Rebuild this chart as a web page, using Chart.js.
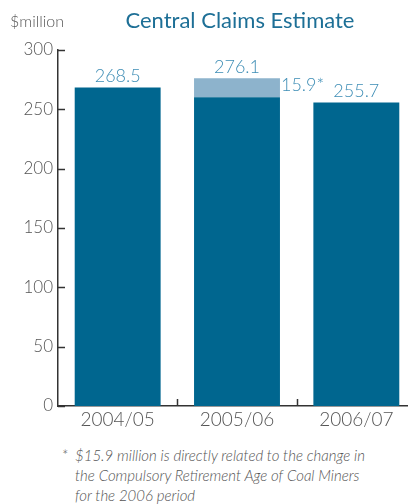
<!DOCTYPE html>
<html>
<head>
<meta charset="utf-8">
<script src="https://cdn.jsdelivr.net/npm/chart.js@4"></script>
<style>
  html, body { margin: 0; padding: 0; background: #fff; overflow: hidden; }
  body { width: 408px; height: 504px; position: relative; font-family: Lato, "Open Sans", sans-serif; font-weight: 300; }
  #wrap { position: absolute; left: 0; top: 0; width: 416px; height: 440px; }
  #title { position: absolute; left: 0; width: 480px; top: 6px; text-align: center; font-size: 22px; font-weight: 400; color: #1d6f96; white-space: nowrap; }
  #unit { position: absolute; left: 10px; top: 11px; font-size: 16px; color: #555; }
  #note { position: absolute; left: 62px; top: 445px; font-size: 15px; line-height: 20px; color: #555; font-style: italic; }
  #note span { display: inline-block; width: 13px; font-style: normal; }
  #note div.l { padding-left: 13px; }
</style>
</head>
<body>
<div id="wrap"><canvas id="myChart"></canvas></div>
<div id="title">Central Claims Estimate</div>
<div id="unit">$million</div>
<div id="note">
  <div><span>*</span>$15.9 million is directly related to the change in</div>
  <div class="l">the Compulsory Retirement Age of Coal Miners</div>
  <div class="l">for the 2006 period</div>
</div>
<script>
const years = ['2004/05', '2005/06', '2006/07'];
const baseClaims = [268.5, 260.2, 255.7];
const retirementAge = [null, 15.9, null];
const yTicks = [0, 50, 100, 150, 200, 250, 300];

const darkBlue = '#00668f';
const lightBlue = '#8db3cc';
const labelBlue = '#3d8db5';
const grey = '#555';
const fontFamily = 'Lato, "Open Sans", sans-serif';

// short tick marks drawn inside the plot, plus value labels over the bars
const insideTicks = {
    id: 'insideTicks',
    afterDatasetsDraw(chart) {
        const ctx = chart.ctx;
        const area = chart.chartArea;
        const x = chart.scales.x;
        const y = chart.scales.y;
        ctx.save();
        ctx.strokeStyle = '#333';
        ctx.lineWidth = 1.5;
        yTicks.forEach(v => {
            const py = Math.round(y.getPixelForValue(v)) + 0.5;
            ctx.beginPath();
            ctx.moveTo(area.left, py);
            ctx.lineTo(area.left + 7, py);
            ctx.stroke();
        });
        for (let i = 1; i < years.length; i++) {
            const px = Math.round((x.getPixelForValue(i - 1) + x.getPixelForValue(i)) / 2) + 0.5;
            ctx.beginPath();
            ctx.moveTo(px, area.bottom);
            ctx.lineTo(px, area.bottom - 7);
            ctx.stroke();
        }

        ctx.font = '300 18px ' + fontFamily;
        ctx.fillStyle = labelBlue;
        ctx.textAlign = 'center';
        ctx.textBaseline = 'bottom';
        const baseMeta = chart.getDatasetMeta(0);
        const addMeta = chart.getDatasetMeta(1);
        years.forEach((yr, i) => {
            const extra = retirementAge[i] || 0;
            const total = baseClaims[i] + extra;
            const bar = extra ? addMeta.data[i] : baseMeta.data[i];
            ctx.fillText(total.toFixed(1), bar.x, bar.y - 2);
            if (extra) {
                ctx.textAlign = 'left';
                ctx.textBaseline = 'top';
                ctx.fillText(extra.toFixed(1) + '*', bar.x + bar.width / 2 + 1, bar.y - 2);
                ctx.textAlign = 'center';
                ctx.textBaseline = 'bottom';
            }
        });
        ctx.restore();
    }
};

new Chart(document.getElementById('myChart'), {
    type: 'bar',
    data: {
        labels: years,
        datasets: [
            { data: baseClaims, backgroundColor: darkBlue },
            { data: retirementAge, backgroundColor: lightBlue }
        ]
    },
    options: {
        responsive: true,
        maintainAspectRatio: false,
        animation: false,
        layout: { padding: { top: 50, left: 0, right: 0, bottom: 0 } },
        plugins: { legend: { display: false }, tooltip: { enabled: false } },
        datasets: { bar: { categoryPercentage: 1, barPercentage: 0.72 } },
        scales: {
            x: {
                stacked: true,
                grid: { display: false, drawTicks: false },
                border: { display: true, color: '#333', width: 1.5 },
                ticks: { color: grey, font: { family: fontFamily, size: 19, weight: 300 }, padding: 2 },
                afterFit: s => { s.height = 34; }
            },
            y: {
                stacked: true,
                min: 0,
                max: 300,
                grid: { display: false, drawTicks: false },
                border: { display: true, color: '#333', width: 1.5 },
                ticks: { stepSize: 50, color: grey, font: { family: fontFamily, size: 17, weight: 300 }, padding: 5 },
                afterFit: s => { s.width = 58; }
            }
        }
    },
    plugins: [insideTicks]
});
</script>
</body>
</html>
